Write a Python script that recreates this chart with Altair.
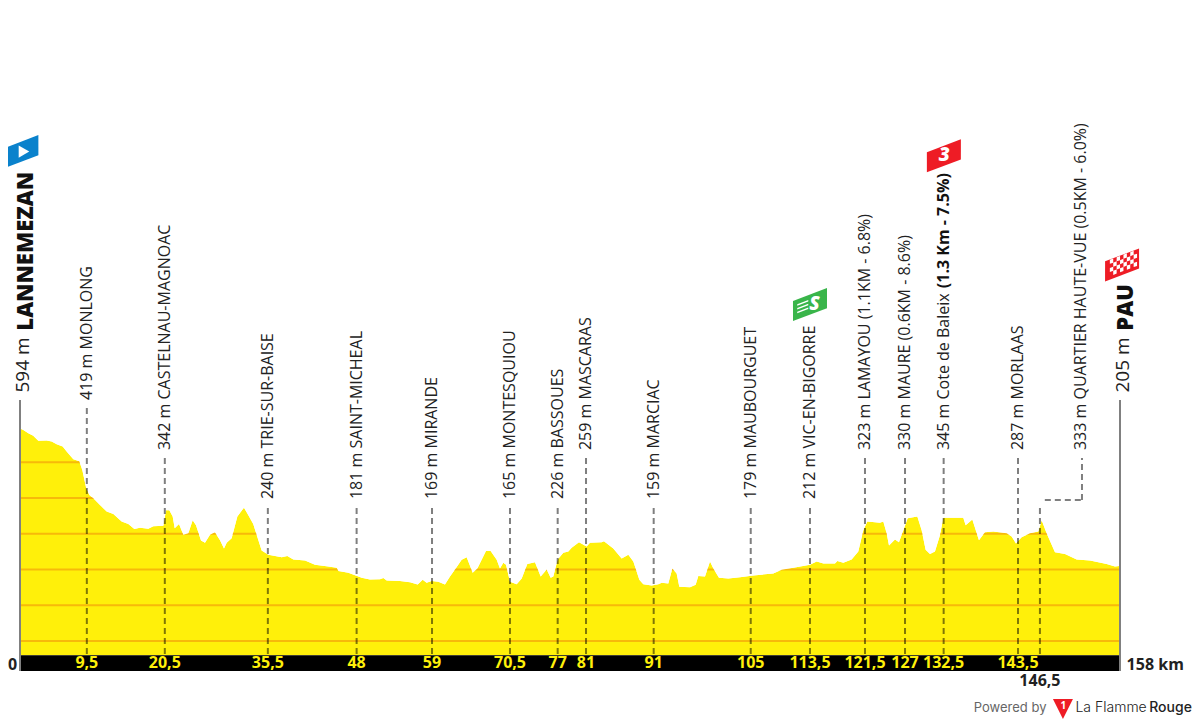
import altair as alt
import pandas as pd

# ---- profile (km, metres)
km = [0.0,0.48,1.2,1.9,2.63,3.83,4.55,5.27,6.13,6.7,7.66,8.52,8.95,9.48,9.96,10.53,11.49,12.45,13.41,14.6,15.56,16.42,17.24,18.43,19.15,20.59,20.97,21.45,21.93,22.22,22.84,23.46,24.18,24.8,25.28,26.0,26.57,27.29,28.0,28.73,29.3,29.69,30.4,31.22,32.17,32.8,33.5,34.71,35.67,37.59,38.4,39.26,40.94,42.37,44.29,45.49,45.73,47.16,49.08,50.27,51.71,52.19,52.67,
      54.58,56.02,57.12,57.84,58.41,59.13,60.09,61.04,61.76,62.48,63.44,64.16,65.02,65.69,66.93,67.6,68.47,68.94,69.42,69.81,70.38,71.34,72.06,72.87,73.97,74.79,75.65,76.22,76.6,77.23,78.04,78.76,79.24,80.29,81.39,81.87,83.55,83.88,85.22,86.42,87.38,88.1,88.96,89.53,90.73,91.69,92.17,93.12,93.7,94.32,94.7,96.24,97.05,97.43,98.39,99.11,99.59,100.4,101.74,103.42,105.33,108.2,109.4,111.08,
      113.47,114.43,115.4,117.06,117.4,118.26,119.45,120.41,121.13,121.7,123.52,124.0,124.48,124.82,125.68,126.25,126.88,127.5,128.89,129.51,130.08,130.71,131.42,132.14,132.62,135.49,135.83,136.79,137.74,138.6,139.8,141.72,142.44,143.06,143.87,145.07,146.27,146.75,147.46,148.66,150.1,151.77,153.69,156.08,157.28,157.9,158.0]
ele = [594,590,581,574,560,561,558,550,544,530,508,503,478,430,408,399,380,362,355,334,327,313,317,314,321,322,366,366,348,315,327,297,301,338,324,281,275,297,304,282,259,275,287,348,373,352,327,253,241,234,238,228,225,213,208,205,196,191,177,172,173,176,169,
       168,164,158,171,163,168,166,158,180,200,227,234,191,203,252,252,227,203,219,213,166,159,175,215,220,180,200,177,180,228,247,250,261,276,264,275,276,279,259,231,241,222,171,159,155,159,163,161,203,189,152,150,157,182,180,222,203,177,175,178,183,189,199,205,
       213,222,217,217,224,219,228,250,310,334,331,334,301,267,284,276,310,343,348,310,255,243,250,296,345,345,324,340,282,304,306,301,292,273,290,301,306,338,301,248,243,228,225,215,208,210,205]

grid_levels = [0,100,200,300,400,500]

# ---- intermediate points
pt_km    = [9.6,20.8,35.6,48.35,59.18,70.38,77.23,81.3,91.02,104.96,113.47,121.37,127.12,132.67,143.35,146.5]
pt_tick  = ["9,5","20,5","35,5","48","59","70,5","77","81","91","105","113,5","121,5","127","132,5","143,5","146,5"]
pt_top   = [652,512,372,372,372,372,372,512,372,372,372,512,512,512,512,372]
pt_lab   = ["419 m MONLONG","342 m CASTELNAU-MAGNOAC","240 m TRIE-SUR-BAISE","181 m SAINT-MICHEAL","169 m MIRANDE",
            "165 m MONTESQUIOU","226 m BASSOUES","259 m MASCARAS","159 m MARCIAC","179 m MAUBOURGUET","212 m VIC-EN-BIGORRE",
            "323 m LAMAYOU (1.1KM - 6.8%)","330 m MAURE (0.6KM - 8.6%)","345 m Cote de Baleix","287 m MORLAAS",
            "333 m QUARTIER HAUTE-VUE (0.5KM - 6.0%)"]
pt_lab_km = pt_km[:-1] + [152.4]
pt_lab_y  = [674,534,397,397,397,397,397,534,397,397,397,534,534,534,534,534]

BASE = -40
BOTTOM = -84
YELLOW = "#FFF00A"
ORANGE = "#F7B90A"
FONT = "Open Sans"

X = alt.X("km:Q", scale=alt.Scale(domain=[0,158], nice=False, zero=False), axis=None)
Y = alt.Y("m:Q", scale=alt.Scale(domain=[BOTTOM,1765], nice=False, zero=False), axis=None)

profile = pd.DataFrame({"km":km,"m":ele,"b":[BASE]*len(km),"t":[700]*len(km)})

area = alt.Chart(profile).mark_area(color=YELLOW, interpolate="linear").encode(x=X, y=Y, y2="b:Q")
grid = alt.Chart(pd.DataFrame({"m":grid_levels,"km":[0]*6,"z":[158]*6})).mark_rule(color=ORANGE, strokeWidth=2).encode(x=X, x2="z:Q", y=Y)
mask = alt.Chart(profile).mark_area(color="white", interpolate="linear").encode(x=X, y=Y, y2="t:Q")
band = alt.Chart(pd.DataFrame({"km":[0],"z":[158],"m":[BASE],"b":[BOTTOM]})).mark_rect(color="black").encode(x=X, x2="z:Q", y=Y, y2="b:Q")

ends = alt.Chart(pd.DataFrame({"km":[0,158],"m":[674,674],"b":[BOTTOM,BOTTOM]})).mark_rule(color="#808080", strokeWidth=2).encode(x=X, y=Y, y2="b:Q")

dash = dict(color="black", opacity=0.5, strokeWidth=2, strokeDash=[6,4])
drops = alt.Chart(pd.DataFrame({"km":pt_km,"m":pt_top,"b":[BASE]*16})).mark_rule(**dash).encode(x=X, y=Y, y2="b:Q")
conn_v = alt.Chart(pd.DataFrame({"km":[152.54],"m":[394],"b":[512]})).mark_rule(**dash).encode(x=X, y=Y, y2="b:Q")
conn_h = alt.Chart(pd.DataFrame({"km":[147.2],"z":[152.54],"m":[394]})).mark_rule(**dash).encode(x=X, x2="z:Q", y=Y)

def text(kms, ms, labels, size, color="black", weight="normal", angle=0, align="left", font=FONT, style=None):
    kw = dict(fontSize=size, color=color, fontWeight=weight, angle=angle, align=align, baseline="middle", font=font)
    if style:
        kw["fontStyle"] = style
    return alt.Chart(pd.DataFrame({"km":kms,"m":ms,"t":labels})).mark_text(**kw).encode(x=X, y=Y, text="t:N")

point_labels = text(pt_lab_km, pt_lab_y, pt_lab, 16, color="#222222", angle=270)
bold_part = text([132.67],[987],["(1.3 Km - 7.5%)"],16,color="#111111",weight="bold",angle=270)
ticks = text(pt_km[:-1],[-62]*15,pt_tick[:-1],16,color=YELLOW,weight="bold",align="center")
extra = text([146.5],[-112],["146,5"],16,color="#222222",weight="bold",align="center")
zero = text([-1.05],[-67],["0"],16,color="#222222",weight="bold",align="center")
dist = text([158.95],[-67],["158 km"],16,color="#222222",weight="bold")

start_alt = text([0.45],[695],["594 m"],19,color="#222222",angle=270)
finish_alt = text([158.45],[695],["205 m"],19,color="#222222",angle=270)
start_name = text([0.8],[868],["LANNEMEZAN"],22,color="#111111",weight=800,angle=270)
finish_name = text([158.8],[868],["PAU"],22,color="#111111",weight=800,angle=270)

# flags
FLAG = "M-1,-0.21L1,-0.97L1,0.21L-1,0.97Z"
def flag(k, m, color):
    return alt.Chart(pd.DataFrame({"km":[k],"m":[m]})).mark_point(shape=FLAG, filled=True, color=color, opacity=1, size=1156, strokeWidth=0).encode(x=X, y=Y)

flags = [flag(0.2,1369,"#0A82CC"), flag(132.7,1357,"#EE1C25"), flag(113.47,941,"#39B54A"), flag(158.3,1052,"#EE1C25")]
play = alt.Chart(pd.DataFrame({"km":[0.57],"m":[1369]})).mark_point(shape="triangle-right", filled=True, color="white", opacity=1, size=150, strokeWidth=0).encode(x=X, y=Y)
num3 = text([132.75],[1358],["3"],19,color="white",weight=800,align="center",style="italic")
numS = text([114.1],[943],["S"],19,color="white",weight=800,align="center",style="italic")
SPEED = "M-0.75,-0.02L-0.1,-0.27L-0.1,-0.18L-0.75,0.07ZM-0.75,0.2L-0.1,-0.05L-0.1,0.04L-0.75,0.29ZM-0.75,0.42L-0.1,0.17L-0.1,0.26L-0.75,0.51Z"
speed = alt.Chart(pd.DataFrame({"km":[113.47],"m":[941]})).mark_point(shape=SPEED, filled=True, color="white", opacity=1, size=1156, strokeWidth=0).encode(x=X, y=Y)
# chequered pattern of the finish flag
squares = ""
for c in range(8):
    for r in range(4):
        if (c + r) % 2 == 0:
            x0 = -0.72 + c*0.2
            y0 = -0.12 - 0.38*x0 - 0.45 + r*0.24
            squares += f"M{x0:.2f},{y0:.2f}L{x0+0.2:.2f},{y0-0.076:.2f}L{x0+0.2:.2f},{y0+0.164:.2f}L{x0:.2f},{y0+0.24:.2f}Z"
check = alt.Chart(pd.DataFrame({"km":[158.3],"m":[1052]})).mark_point(shape=squares, filled=True, color="white", opacity=1, size=1156, strokeWidth=0).encode(x=X, y=Y)

# footer
powered = text([137.0],[-187],["Powered by"],13,color="#666666",font="Inter")
la = text([151.6],[-187],["La Flamme"],14,color="#222222",font="Inter",weight=300)
rouge = text([162.2],[-187],["Rouge"],14,color="#222222",font="Inter",weight=500)
logo = alt.Chart(pd.DataFrame({"km":[149.8],"m":[-190]})).mark_point(shape="M-1,-1L1,-1L0,1Z", filled=True, color="#EE1C25", opacity=1, size=400, strokeWidth=0).encode(x=X, y=Y)
logo1 = text([149.85],[-183],["1"],10,color="white",weight="bold",align="center")

chart = alt.layer(
    area, grid, mask, band, ends, drops, conn_v, conn_h,
    point_labels, bold_part, ticks, extra, zero, dist,
    start_alt, finish_alt, start_name, finish_name,
    *flags, play, num3, numS, speed, check,
    powered, la, rouge, logo, logo1,
).properties(
    width=1100, height=661,
    padding={"left":12,"top":2,"right":72,"bottom":49},
    autosize=alt.AutoSizeParams(type="none"),
    background="white",
).configure_view(stroke=None)

chart.save("out.html", embed_options={"renderer": "svg", "actions": False})
